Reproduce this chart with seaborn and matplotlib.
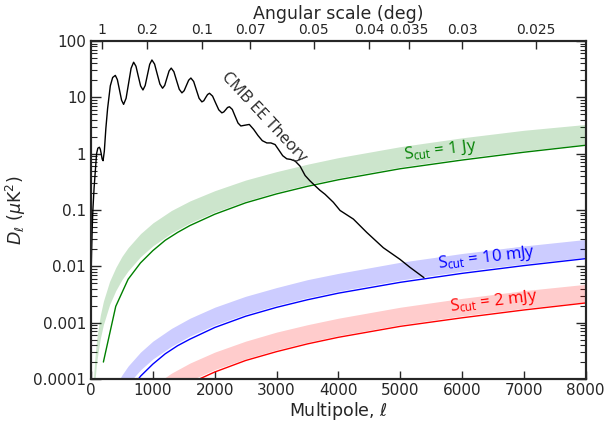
import numpy as np
import matplotlib
matplotlib.use('Agg')
import matplotlib.pyplot as plt
import seaborn as sns
from matplotlib.ticker import LogLocator, FixedLocator, FuncFormatter, NullLocator

# CMB EE theory curve
cmb_ell = [2, 10, 20, 30, 50, 70, 90, 110, 135, 150, 165, 180, 195, 215, 240, 268, 312,
           350, 393, 426, 460, 494, 527, 567, 608, 648, 689, 727, 764, 802, 840, 876,
           912, 949, 985, 1028, 1071, 1114, 1157, 1192, 1227, 1262, 1297, 1340, 1383,
           1427, 1470, 1506, 1542, 1579, 1615, 1660, 1704, 1748, 1793, 1824, 1854, 1885,
           1916, 1966, 2016, 2066, 2116, 2147, 2177, 2208, 2239, 2285, 2331, 2377, 2423,
           2490, 2560, 2630, 2700, 2770, 2843, 2910, 2977, 3040, 3100, 3166, 3230, 3300,
           3381, 3462, 3540, 3623, 3700, 3785, 3919, 4028, 4243, 4459, 4727, 4997, 5158,
           5384]
cmb_dl = [0.008, 0.02, 0.05, 0.1, 0.25, 0.5, 1.0, 1.25, 1.3, 1.2, 1.0, 0.8, 0.75, 1.1,
          2.8, 6.3, 16, 22.5, 24.5, 20.6, 13.6, 8.9, 7.5, 9.6, 17.8, 32.7, 42, 35.6,
          23.8, 15.9, 13.5, 16.2, 24.9, 38.5, 46, 38.9, 25.8, 17.2, 14.5, 16.3, 21.9,
          29.3, 33, 28.5, 19.9, 13.9, 12, 13.1, 16.2, 20.1, 22, 19.1, 13.5, 9.6, 8.3,
          8.7, 9.9, 11.2, 11.8, 10.5, 7.9, 6.0, 5.3, 5.5, 6.0, 6.6, 6.8, 6.1, 4.6, 3.5,
          3.1, 3.2, 3.3, 2.7, 2.1, 1.7, 1.55, 1.55, 1.45, 1.15, 0.92, 0.81, 0.79, 0.74,
          0.6, 0.41, 0.33, 0.27, 0.225, 0.19, 0.137, 0.098, 0.069, 0.04, 0.0214, 0.0133,
          0.0096, 0.0063]

# point source bands (lower / upper edge)
band_ell = [40, 60, 80, 100, 150, 200, 300, 400, 500, 600, 800, 1000, 1300, 1600, 2000,
            2500, 3000, 3500, 4000, 5000, 6000, 7000, 8000]
green_lo = [3.7e-5, 8.3e-5, 1.48e-4, 2.31e-4, 5.2e-4, 9.2e-4, 2.08e-3, 3.7e-3, 5.8e-3,
            8.3e-3, 0.0148, 0.0231, 0.039, 0.059, 0.092, 0.144, 0.208, 0.283, 0.37,
            0.58, 0.83, 1.13, 1.48]
green_hi = [1.0e-4, 2.2e-4, 3.9e-4, 6.0e-4, 1.35e-3, 2.4e-3, 5.4e-3, 9.5e-3, 0.015,
            0.0215, 0.038, 0.059, 0.098, 0.145, 0.22, 0.34, 0.48, 0.65, 0.85,
            1.33, 1.91, 2.6, 3.3]
blue_lo = [3.6e-7, 8.2e-7, 1.45e-6, 2.27e-6, 5.1e-6, 9.1e-6, 2.04e-5, 3.6e-5, 5.7e-5,
           8.2e-5, 1.45e-4, 2.27e-4, 3.8e-4, 5.8e-4, 9.1e-4, 1.42e-3, 2.04e-3, 2.78e-3,
           3.63e-3, 5.7e-3, 8.2e-3, 0.0111, 0.0145]
blue_hi = [7.5e-7, 1.7e-6, 3.0e-6, 4.7e-6, 1.06e-5, 1.9e-5, 4.2e-5, 7.5e-5, 1.18e-4,
           1.7e-4, 3.0e-4, 4.7e-4, 7.9e-4, 1.2e-3, 1.88e-3, 2.94e-3, 4.2e-3, 5.8e-3,
           7.5e-3, 0.0118, 0.0169, 0.023, 0.030]
red_lo = [5.9e-8, 1.3e-7, 2.3e-7, 3.7e-7, 8.3e-7, 1.47e-6, 3.3e-6, 5.9e-6, 9.2e-6,
          1.32e-5, 2.35e-5, 3.67e-5, 6.2e-5, 9.4e-5, 1.47e-4, 2.29e-4, 3.3e-4, 4.5e-4,
          5.9e-4, 9.2e-4, 1.32e-3, 1.8e-3, 2.35e-3]
red_hi = [1.2e-7, 2.7e-7, 4.8e-7, 7.5e-7, 1.7e-6, 3.0e-6, 6.8e-6, 1.2e-5, 1.9e-5,
          2.7e-5, 4.8e-5, 7.5e-5, 1.27e-4, 1.92e-4, 3.0e-4, 4.7e-4, 6.8e-4, 9.2e-4,
          1.2e-3, 1.88e-3, 2.7e-3, 3.7e-3, 4.8e-3]

# point source model lines
src_ell = [200, 400, 600, 800, 1000, 1200, 1400, 1600, 2000, 2500, 3000, 3500, 4000,
           5000, 6000, 7000, 8000]
green_line = [2.0e-4, 1.95e-3, 5.9e-3, 0.0115, 0.019, 0.029, 0.040, 0.053, 0.084, 0.134,
              0.193, 0.263, 0.344, 0.54, 0.77, 1.06, 1.41]
blue_line = [1.9e-6, 1.9e-5, 5.7e-5, 1.12e-4, 1.84e-4, 2.8e-4, 3.9e-4, 5.1e-4, 8.2e-4,
             1.3e-3, 1.87e-3, 2.55e-3, 3.34e-3, 5.2e-3, 7.5e-3, 0.0103, 0.0137]
red_line = [3e-7, 3e-6, 9.4e-6, 1.83e-5, 3.0e-5, 4.6e-5, 6.3e-5, 8.4e-5, 1.33e-4,
            2.13e-4, 3.06e-4, 4.2e-4, 5.5e-4, 8.6e-4, 1.22e-3, 1.68e-3, 2.24e-3]

# top axis: angular scale
ang_deg = [1, 0.2, 0.1, 0.07, 0.05, 0.04, 0.035, 0.03, 0.025]
ang_labels = ['1', '0.2', '0.1', '0.07', '0.05', '0.04', '0.035', '0.03', '0.025']

sns.set_style('ticks')
plt.rcParams['font.family'] = ['DejaVu Sans']
plt.rcParams['mathtext.fontset'] = 'dejavusans'

fig = plt.figure(figsize=(6.08, 4.26), dpi=100)
ax = fig.add_axes([0.1497, 0.1103, 0.8136, 0.7935])

for lo, hi, c in [(green_lo, green_hi, 'green'), (blue_lo, blue_hi, 'blue'),
                  (red_lo, red_hi, 'red')]:
    ax.fill_between(band_ell, lo, hi, color=c, alpha=0.2, lw=0)

sns.lineplot(x=src_ell, y=green_line, color='green', lw=1, ax=ax)
sns.lineplot(x=src_ell, y=blue_line, color='blue', lw=1, ax=ax)
sns.lineplot(x=src_ell, y=red_line, color='red', lw=1, ax=ax)
sns.lineplot(x=cmb_ell, y=cmb_dl, color='black', lw=1, ax=ax)

ax.set_yscale('log')
ax.set_xlim(0, 8000)
ax.set_ylim(1e-4, 100)
ax.xaxis.set_major_locator(FixedLocator([0, 1000, 2000, 3000, 4000, 5000, 6000, 7000, 8000]))
ax.xaxis.set_minor_locator(NullLocator())
ax.yaxis.set_major_locator(LogLocator(base=10, numticks=10))
ax.yaxis.set_minor_locator(LogLocator(base=10, subs=np.arange(2, 10), numticks=10))
ax.yaxis.set_major_formatter(FuncFormatter(lambda v, p: '%g' % v))
ax.tick_params(axis='both', which='both', direction='in', labelsize=11)
ax.tick_params(axis='y', which='both', right=True)
ax.tick_params(axis='y', which='major', length=7, width=1)
ax.tick_params(axis='y', which='minor', length=4, width=0.8)
ax.tick_params(axis='x', which='major', length=6, width=1, top=False, pad=3)
for s in ax.spines.values():
    s.set_linewidth(1.5)
    s.set_color('black')

ax.set_xlabel(r'Multipole, $\ell$', fontsize=12.5, labelpad=1)
ax.set_ylabel(r'$D_\ell$ ($\mu$K$^2$)', fontsize=12.5, labelpad=4)

ax2 = ax.twiny()
ax2.set_xlim(ax.get_xlim())
ax2.set_xticks([180 / t for t in ang_deg])
ax2.set_xticklabels(ang_labels)
ax2.xaxis.set_minor_locator(NullLocator())
ax2.tick_params(axis='x', direction='in', length=6, width=1, labelsize=10, pad=3)
ax2.set_xlabel('Angular scale (deg)', fontsize=12.5, labelpad=3)
for s in ax2.spines.values():
    s.set_linewidth(1.5)

tfont = ['Open Sans', 'DejaVu Sans']
ax.text(2790, 4.4, 'CMB EE Theory', rotation=-47, fontsize=12, family=tfont,
        ha='center', va='center', rotation_mode='anchor')
ax.text(5650, 1.13, r'$\mathregular{S_{cut}}$ = 1 Jy', rotation=7, fontsize=12,
        family=tfont, color='green', ha='center', va='center', rotation_mode='anchor')
ax.text(6400, 0.0139, r'$\mathregular{S_{cut}}$ = 10 mJy', rotation=7, fontsize=12,
        family=tfont, color='blue', ha='center', va='center', rotation_mode='anchor')
ax.text(6520, 0.00237, r'$\mathregular{S_{cut}}$ = 2 mJy', rotation=7, fontsize=12,
        family=tfont, color='red', ha='center', va='center', rotation_mode='anchor')

fig.savefig('out.png', dpi=100)
